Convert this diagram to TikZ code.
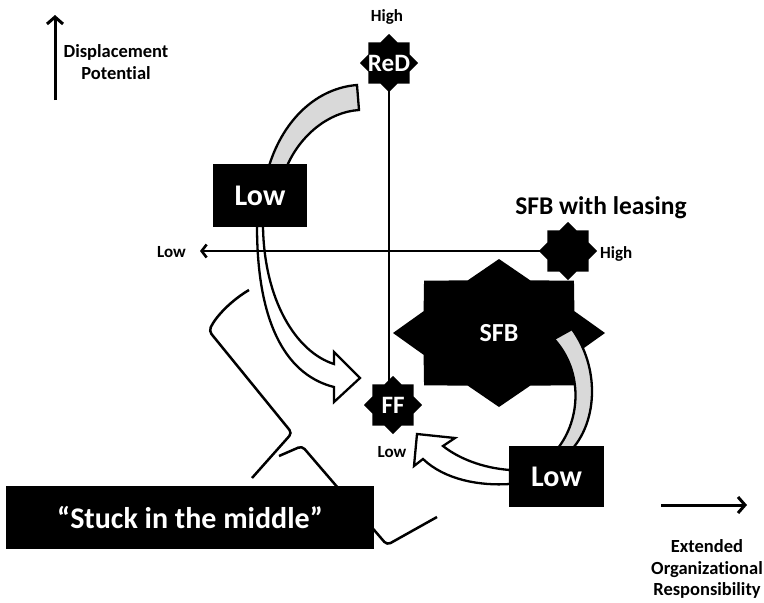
\documentclass[tikz,border=0pt]{standalone}
\usepackage{fontspec}
\setmainfont{Carlito}[Ligatures=CommonOff]
\usetikzlibrary{arrows.meta,calc}

% eight-point star: centre, x radius, y radius
\newcommand{\octstar}[3]{%
  \fill (#1) +(90:#2 and #3)
    \foreach \a in {90,135,...,405}{ -- +(\a+22.5:0.77*#2 and 0.77*#3) -- +(\a+45:#2 and #3)} -- cycle;}

\begin{document}
\begin{tikzpicture}[
  x=1pt, y=-1pt,
  >={Straight Barb[length=5pt,width=13pt]},
  axis/.style={line width=2.6pt},
  bigarrow/.style={line width=3pt, -{Straight Barb[length=7pt,width=16pt]}},
  blackbox/.style={fill=black, text=white, font=\bfseries\fontsize{30}{32}\selectfont, inner sep=0pt},
  startxt/.style={text=white, font=\bfseries\fontsize{25}{27}\selectfont, inner sep=0pt},
  small/.style={font=\bfseries\fontsize{17}{20}\selectfont, inner sep=0pt},
  lbl/.style={font=\bfseries\fontsize{18.5}{21.5}\selectfont, align=center, inner sep=0pt},
  band/.style={fill=black!15, draw=black, line width=2.3pt},
  blockarrow/.style={fill=white, draw=black, line width=2.3pt},
  brace/.style={line width=2.5pt, rounded corners=4pt}
]
\useasboundingbox (0,0) rectangle (764,603);

% displacement axis (top left)
\coordinate (dpbot) at (55,100);
\coordinate (dptop) at (55,15);
\draw[bigarrow] (dpbot) -- (dptop);
\node[lbl] (dp) at (116,62) {Displacement\\Potential};

% white arrow Low -> FF
\draw[blockarrow] (257,226) .. controls (257,330) and (290,376) .. (334,387)
  -- (334,402) -- (360,378) -- (334,352) -- (334,364)
  .. controls (296,352) and (264,300) .. (263,226) -- cycle;

% axes
\coordinate (red) at (389,63);
\coordinate (ff) at (393,405);
\coordinate (sfbl) at (568,251);
\coordinate (hlow) at (200,251);
\draw[axis] (red) -- (red |- ff);
\draw[axis,->] (sfbl) -- (hlow);

% stars
\octstar{red}{29}{29}
\octstar{ff}{29}{29}
\octstar{sfbl}{29}{29}
\coordinate (sfb) at (499,333);
\octstar{sfb}{106}{74}

% grey bands and white arrow Low -> FF
\draw[band] (269,166) .. controls (284,118) and (318,88) .. (357,85)
  -- (359,110) .. controls (328,112) and (300,136) .. (287,166) -- cycle;
\draw[band] (554,339) -- (572,329) .. controls (600,368) and (597,420) .. (573,448)
  -- (558,448) .. controls (580,420) and (584,372) .. cycle;
\draw[blockarrow] (510,470) .. controls (482,468) and (458,458) .. (443,446)
  -- (455,438) -- (417,434) -- (414,466) -- (423,459)
  .. controls (445,480) and (480,486) .. (510,484) -- cycle;

% boxes
\node[blackbox, minimum width=94pt, minimum height=63pt] (low1) at (260,195.5) {Low};
\node[blackbox, minimum width=95pt, minimum height=61pt] (low2) at (556.5,476.5) {Low};

% brace
\draw[brace] (249,290) .. controls (232,300) and (216,316) .. (209,331) -- (292,433) -- (252,478);
\draw[brace] (279,456) -- (302,446) -- (387,545) -- (437,517);
\node[blackbox, minimum width=368pt, minimum height=63pt] (stuck) at (190,517.5) {“Stuck in the middle”};

% labels
\node[startxt] at (red) {ReD};
\node[startxt] at (ff) {FF};
\node[startxt, font=\bfseries\fontsize{26}{28}\selectfont] at (sfb) {SFB};
\node[small] (hightop) at (387,17) {High};
\node[small, anchor=east] (lowleft) at (186,252) {Low};
\node[small, anchor=west] (highright) at (600,254) {High};
\node[small] (lowff) at (392,452) {Low};
\node[font=\bfseries\fontsize{25.5}{28}\selectfont, inner sep=0pt] (sfbltxt) at (601,208) {SFB with leasing};

% extended organizational responsibility
\coordinate (erl) at (661,505);
\coordinate (err) at (747,505);
\draw[bigarrow] (erl) -- (err);
\node[lbl] (eor) at (707,569) {Extended\\Organizational\\Responsibility};

\end{tikzpicture}
\end{document}
